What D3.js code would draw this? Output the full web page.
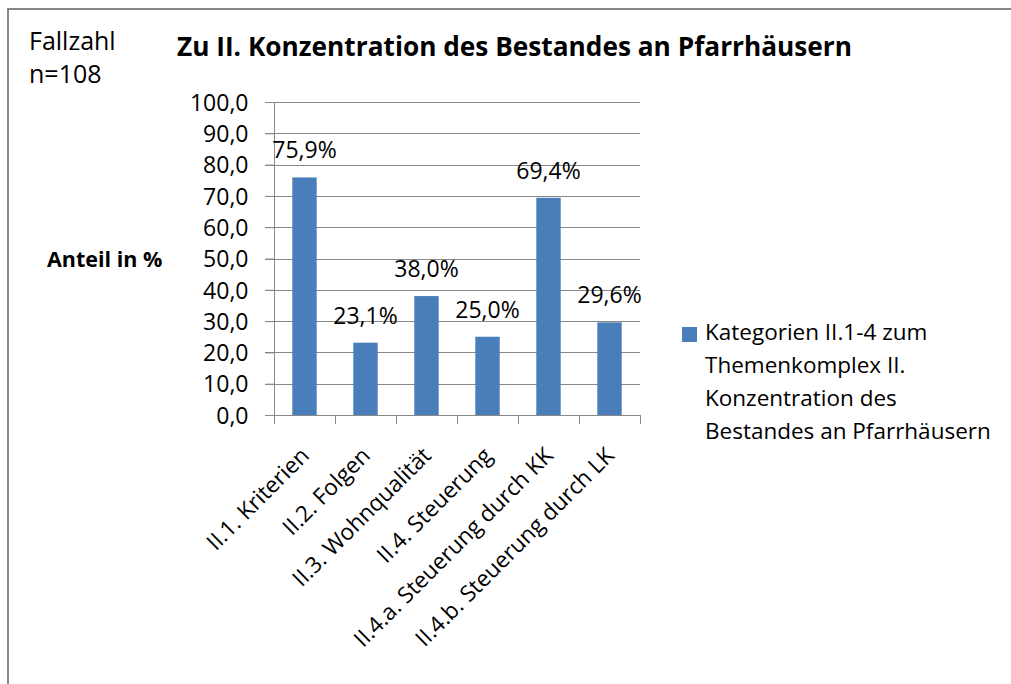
<!DOCTYPE html>
<html>
<head>
<meta charset="utf-8">
<script src="https://cdn.jsdelivr.net/npm/d3@7"></script>
<style>
  html, body { margin: 0; padding: 0; background: #fff; }
  svg { display: block; }
  text { font-family: "Open Sans", "Noto Sans", sans-serif; fill: #000; }
</style>
</head>
<body>
<svg id="chart" width="1011" height="684"></svg>
<script>
// ---- data ----
const categories = [
  "II.1. Kriterien",
  "II.2. Folgen",
  "II.3. Wohnqualität",
  "II.4. Steuerung",
  "II.4.a. Steuerung durch KK",
  "II.4.b. Steuerung durch LK"
];
const values = [75.9, 23.1, 38.0, 25.0, 69.4, 29.6];
const yTicks = [0, 10, 20, 30, 40, 50, 60, 70, 80, 90, 100];
const legendLines = [
  "Kategorien II.1-4 zum",
  "Themenkomplex II.",
  "Konzentration des",
  "Bestandes an Pfarrhäusern"
];
const titleText = "Zu II. Konzentration des Bestandes an Pfarrhäusern";
const noteLines = ["Fallzahl", "n=108"];
const yAxisTitle = "Anteil in %";

// ---- layout ----
const svg = d3.select("#chart");
const plot = { left: 274, right: 640, top: 102, bottom: 415 };
const barColor = "#4a7ebb";
const gridColor = "#888888";
const fmt = v => v.toFixed(1).replace(".", ",");

// outer border
svg.append("rect")
  .attr("x", 8).attr("y", 9)
  .attr("width", 1020).attr("height", 690)
  .attr("fill", "none").attr("stroke", "#868686").attr("stroke-width", 2);

const x = d3.scaleBand().domain(categories).range([plot.left, plot.right]).paddingInner(0.6).paddingOuter(0.3);
const xEdge = d3.scaleLinear().domain([0, categories.length]).range([plot.left, plot.right]);
const y = d3.scaleLinear().domain([0, 100]).range([plot.bottom, plot.top]);

// gridlines
svg.append("g").selectAll("line").data(yTicks).join("line")
  .attr("x1", plot.left - 9).attr("x2", plot.right)
  .attr("y1", d => Math.round(y(d)) + 0.5).attr("y2", d => Math.round(y(d)) + 0.5)
  .attr("stroke", gridColor).attr("stroke-width", 1);

// y axis
const yAxis = svg.append("g")
  .attr("transform", `translate(${plot.left + 0.5},0)`)
  .call(d3.axisLeft(y).tickValues(yTicks).tickFormat(fmt).tickSize(9).tickPadding(17));
yAxis.select(".domain").attr("stroke", gridColor).attr("d", `M0,${plot.top}V${plot.bottom}`);
yAxis.selectAll(".tick line").attr("stroke", gridColor);
yAxis.selectAll(".tick text")
  .style("font-family", '"Open Sans", sans-serif')
  .attr("font-size", 23).attr("fill", "#000").attr("dy", "0.36em");

// x axis ticks (category boundaries)
svg.append("g").selectAll("line").data(d3.range(categories.length + 1)).join("line")
  .attr("x1", d => Math.round(xEdge(d)) + 0.5).attr("x2", d => Math.round(xEdge(d)) + 0.5)
  .attr("y1", plot.bottom).attr("y2", plot.bottom + 9)
  .attr("stroke", gridColor);

// bars
svg.append("g").selectAll("rect").data(values).join("rect")
  .attr("x", (d, i) => x(categories[i]))
  .attr("width", x.bandwidth())
  .attr("y", d => y(d))
  .attr("height", d => y(0) - y(d))
  .attr("fill", barColor);

// data labels
svg.append("g").selectAll("text").data(values).join("text")
  .attr("x", (d, i) => x(categories[i]) + x.bandwidth() / 2)
  .attr("y", d => y(d) - 19)
  .attr("text-anchor", "middle")
  .attr("font-size", 23)
  .text(d => fmt(d) + "%");

// x category labels
svg.append("g").selectAll("text").data(categories).join("text")
  .attr("transform", d => `translate(${x(d) + x.bandwidth() / 2 + 6},457) rotate(-45)`)
  .attr("text-anchor", "end")
  .attr("font-size", 22.5)
  .text(d => d);

// title
svg.append("text")
  .attr("x", 177).attr("y", 56)
  .attr("font-size", 26).attr("font-weight", "bold")
  .attr("textLength", 675).attr("lengthAdjust", "spacingAndGlyphs")
  .text(titleText);

// note
svg.append("g").selectAll("text").data(noteLines).join("text")
  .attr("x", 29).attr("y", (d, i) => 50 + i * 33)
  .attr("font-size", 25)
  .text(d => d);

// y axis title
svg.append("text")
  .attr("x", 47).attr("y", 267)
  .attr("font-size", 21.5).attr("font-weight", "bold")
  .text(yAxisTitle);

// legend
svg.append("rect")
  .attr("x", 682).attr("y", 327).attr("width", 15).attr("height", 15)
  .attr("fill", barColor);
svg.append("g").selectAll("text").data(legendLines).join("text")
  .attr("x", 705).attr("y", (d, i) => 340 + i * 33)
  .attr("font-size", 22.5)
  .text(d => d);
</script>
</body>
</html>
